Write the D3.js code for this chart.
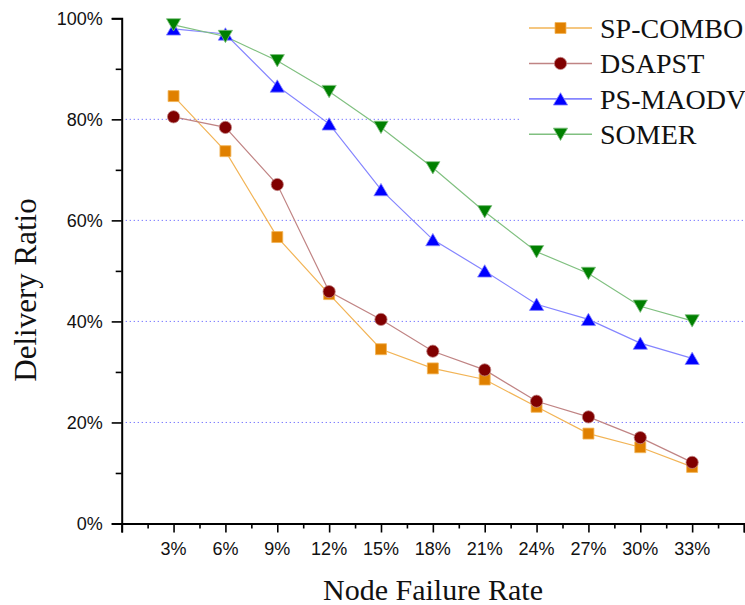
<!DOCTYPE html>
<html>
<head>
<meta charset="utf-8">
<script src="https://cdn.jsdelivr.net/npm/d3@7/dist/d3.min.js"></script>
<style>
  html, body { margin: 0; padding: 0; background: #fff; }
  svg { display: block; }
  .tick-label { font-family: "Liberation Sans", Arial, sans-serif; font-size: 18px; fill: #111; }
  .axis-title { font-family: "Liberation Serif", "Times New Roman", serif; font-size: 30px; fill: #111; }
  .legend-text { font-family: "Liberation Serif", "Times New Roman", serif; font-size: 28px; fill: #111; }
</style>
</head>
<body>
<script>
// Node failure rate (%) on the x axis
const failureRates = [3, 6, 9, 12, 15, 18, 21, 24, 27, 30, 33];

// Delivery ratio (%) for each protocol
const spCombo = [84.6, 73.7, 56.7, 45.4, 34.5, 30.7, 28.5, 23.1, 17.8, 15.1, 11.2];
const dsapst  = [80.5, 78.4, 67.1, 45.9, 40.4, 34.1, 30.4, 24.2, 21.1, 17.0, 12.1];
const psMaodv = [97.9, 96.9, 86.6, 79.1, 66.1, 56.2, 50.0, 43.4, 40.4, 35.7, 32.7];
const somer   = [98.7, 96.4, 91.6, 85.5, 78.4, 70.4, 61.7, 53.8, 49.5, 43.0, 40.1];

const seriesNames = ["SP-COMBO", "DSAPST", "PS-MAODV", "SOMER"];

// Axis tick values
const xMajorTicks = [0, 3, 6, 9, 12, 15, 18, 21, 24, 27, 30, 33, 36];
const xMinorTicks = [1.5, 4.5, 7.5, 10.5, 13.5, 16.5, 19.5, 22.5, 25.5, 28.5, 31.5, 34.5];
const xLabelTicks = [3, 6, 9, 12, 15, 18, 21, 24, 27, 30, 33];
const yMajorTicks = [0, 20, 40, 60, 80, 100];
const yMinorTicks = [10, 30, 50, 70, 90];
const yGridTicks  = [20, 40, 60, 80];

const W = 745, H = 605;

// Custom triangle symbols centred on their bounding box
const triUp = {
  draw(ctx, size) {
    const s = Math.sqrt(size * 4 / Math.sqrt(3));
    const h = s * Math.sqrt(3) / 2;
    ctx.moveTo(0, -h / 2);
    ctx.lineTo(s / 2, h / 2);
    ctx.lineTo(-s / 2, h / 2);
    ctx.closePath();
  }
};
const triDown = {
  draw(ctx, size) {
    const s = Math.sqrt(size * 4 / Math.sqrt(3));
    const h = s * Math.sqrt(3) / 2;
    ctx.moveTo(0, h / 2);
    ctx.lineTo(s / 2, -h / 2);
    ctx.lineTo(-s / 2, -h / 2);
    ctx.closePath();
  }
};

const series = [
  { name: seriesNames[0], values: spCombo, fill: "#e08000", line: "#f2b456", symbol: d3.symbolSquare, size: 120 },
  { name: seriesNames[1], values: dsapst,  fill: "#800000", line: "#c08484", symbol: d3.symbolCircle, size: 118 },
  { name: seriesNames[2], values: psMaodv, fill: "#0000ff", line: "#8585ff", symbol: triUp,   size: 88 },
  { name: seriesNames[3], values: somer,   fill: "#008000", line: "#80c080", symbol: triDown, size: 88 }
];

const x = d3.scaleLinear().domain([0, 36]).range([121.7, 744]);
const y = d3.scaleLinear().domain([0, 100]).range([523.5, 18.3]);

const svg = d3.select("body").append("svg")
  .attr("width", W).attr("height", H);

// Dotted horizontal grid lines
svg.append("g").selectAll("line")
  .data(yGridTicks).join("line")
  .attr("x1", x(0)).attr("x2", x(36))
  .attr("y1", d => y(d)).attr("y2", d => y(d))
  .attr("stroke", "#6a6aff")
  .attr("stroke-width", 1)
  .attr("stroke-dasharray", "1.2,2.8");

// Y axis: major ticks with labels, minor ticks without
const yAxis = svg.append("g").attr("transform", `translate(${x(0)},0)`)
  .call(d3.axisLeft(y).tickValues(yMajorTicks).tickSize(10).tickPadding(9)
        .tickFormat(d => d + "%"));
yAxis.select(".domain").attr("stroke", "#000").attr("stroke-width", 2);
yAxis.selectAll(".tick line").attr("stroke", "#000").attr("stroke-width", 1.6);
yAxis.selectAll(".tick text").attr("class", "tick-label").attr("font-size", null)
  .attr("font-family", null).attr("dy", "0.36em");
svg.append("g").attr("transform", `translate(${x(0)},0)`)
  .call(d3.axisLeft(y).tickValues(yMinorTicks).tickSize(6).tickFormat(""))
  .call(g => g.select(".domain").remove())
  .call(g => g.selectAll(".tick line").attr("stroke", "#000").attr("stroke-width", 1.6));

// X axis: major ticks, minor ticks and labels
const xAxis = svg.append("g").attr("transform", `translate(0,${y(0)})`)
  .call(d3.axisBottom(x).tickValues(xMajorTicks).tickSize(9).tickFormat(""));
xAxis.select(".domain").attr("stroke", "#000").attr("stroke-width", 2);
xAxis.selectAll(".tick line").attr("stroke", "#000").attr("stroke-width", 1.6);
svg.append("g").attr("transform", `translate(0,${y(0)})`)
  .call(d3.axisBottom(x).tickValues(xMinorTicks).tickSize(5).tickFormat(""))
  .call(g => g.select(".domain").remove())
  .call(g => g.selectAll(".tick line").attr("stroke", "#000").attr("stroke-width", 1.6));
svg.append("g").selectAll("text")
  .data(xLabelTicks).join("text")
  .attr("class", "tick-label")
  .attr("x", d => x(d)).attr("y", y(0) + 31)
  .attr("text-anchor", "middle")
  .text(d => d + "%");

// Axis titles
svg.append("text").attr("class", "axis-title")
  .attr("x", 433).attr("y", 600)
  .attr("text-anchor", "middle")
  .text("Node Failure Rate");
svg.append("text").attr("class", "axis-title")
  .attr("transform", "translate(36,290) rotate(-90)")
  .attr("text-anchor", "middle")
  .style("font-size", "31px")
  .text("Delivery Ratio");

// Series lines and markers
const line = d3.line()
  .x((d, i) => x(failureRates[i]))
  .y(d => y(d));

series.forEach(s => {
  svg.append("path")
    .datum(s.values)
    .attr("fill", "none")
    .attr("stroke", s.line)
    .attr("stroke-width", 1.2)
    .attr("d", line);
});
series.forEach(s => {
  svg.append("g").selectAll("path")
    .data(s.values).join("path")
    .attr("transform", (d, i) => `translate(${x(failureRates[i])},${y(d)})`)
    .attr("d", d3.symbol().type(s.symbol).size(s.size))
    .attr("fill", s.fill)
    .attr("stroke", s.line)
    .attr("stroke-width", 0.8);
});

// Legend with a white backing
const legend = svg.append("g");
legend.append("rect")
  .attr("x", 519).attr("y", 2).attr("width", 226).attr("height", 150)
  .attr("fill", "#fff");
const rowY = d3.scaleLinear().domain([0, 3]).range([28, 134.3]);
series.forEach((s, i) => {
  const gy = rowY(i);
  legend.append("line")
    .attr("x1", 529).attr("x2", 592)
    .attr("y1", gy).attr("y2", gy)
    .attr("stroke", s.line).attr("stroke-width", 1.6);
  legend.append("path")
    .attr("transform", `translate(560.5,${gy})`)
    .attr("d", d3.symbol().type(s.symbol).size(s.size))
    .attr("fill", s.fill)
    .attr("stroke", s.line)
    .attr("stroke-width", 0.8);
  legend.append("text").attr("class", "legend-text")
    .attr("x", 600).attr("y", gy + 9.7)
    .text(s.name);
});
</script>
</body>
</html>
